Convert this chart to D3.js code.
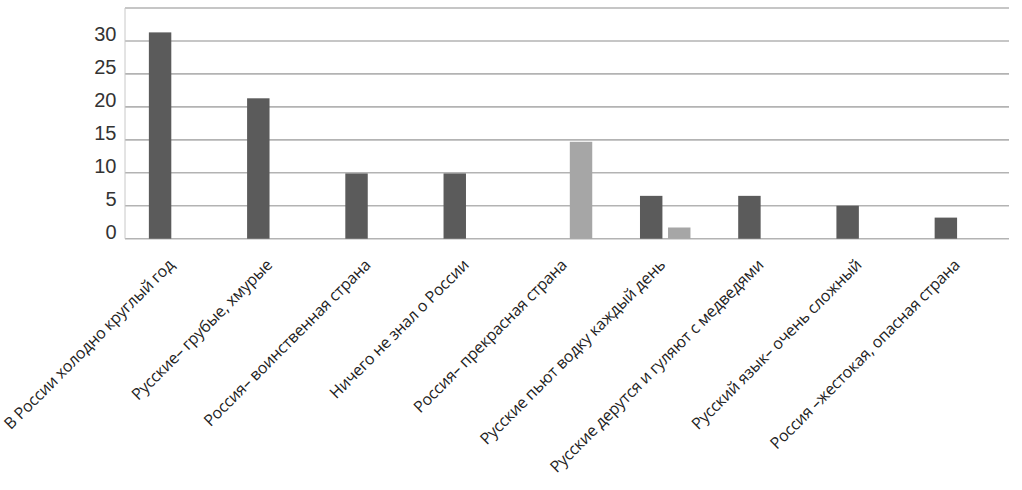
<!DOCTYPE html>
<html><head><meta charset="utf-8">
<script src="https://cdn.jsdelivr.net/npm/d3@7"></script>
<style>html,body{margin:0;padding:0;background:#fff;}</style>
</head><body>
<svg id="c" width="1022" height="490"></svg>
<script>
const categories = [
  "В России холодно круглый год",
  "Русские– грубые, хмурые",
  "Россия– воинственная страна",
  "Ничего не знал о России",
  "Россия– прекрасная страна",
  "Русские пьют водку каждый день",
  "Русские дерутся и гуляют с медведями",
  "Русский язык– очень сложный",
  "Россия –жестокая, опасная страна"
];
const seriesDark  = [31.3, 21.3, 9.9, 9.9, 0, 6.5, 6.5, 5.0, 3.2];
const seriesLight = [0, 0, 0, 0, 14.7, 1.7, 0, 0, 0];
const yTicks = [0, 5, 10, 15, 20, 25, 30];
const yGrid = [0, 5, 10, 15, 20, 25, 30, 35];
const seriesColors = ["#5b5b5b", "#a6a6a6"];

const svg = d3.select("#c");
const plotLeft = 125, plotRight = 1009, plotTop = 8, plotBottom = 238.7;

const y = d3.scaleLinear().domain([0, 35]).range([plotBottom, plotTop]);
const x0 = d3.scaleBand().domain(d3.range(categories.length)).range([plotLeft, plotRight])
  .paddingInner(0.486).paddingOuter(0.243);
const x1 = d3.scaleBand().domain([0, 1]).range([0, x0.bandwidth()]).paddingInner(0.2);

// gridlines
svg.append("g").selectAll("line").data(yGrid).join("line")
  .attr("x1", plotLeft).attr("x2", plotRight)
  .attr("y1", d => y(d)).attr("y2", d => y(d))
  .attr("stroke", "#b3b3b3").attr("stroke-width", 1.6);
// left border
svg.append("line").attr("x1", plotLeft).attr("x2", plotLeft).attr("y1", y(35)).attr("y2", y(0))
  .attr("stroke", "#c8c8c8").attr("stroke-width", 1);

// bars
const data = categories.map((c, i) => [seriesDark[i], seriesLight[i]]);
const g = svg.append("g").selectAll("g").data(data).join("g")
  .attr("transform", (d, i) => `translate(${x0(i)},0)`);
g.selectAll("rect").data(d => d.map((v, k) => ({v, k})).filter(e => e.v > 0)).join("rect")
  .attr("x", d => x1(d.k)).attr("width", x1.bandwidth())
  .attr("y", d => y(d.v)).attr("height", d => y(0) - y(d.v))
  .attr("fill", d => seriesColors[d.k]);

// y labels
svg.append("g").selectAll("text").data(yTicks).join("text")
  .attr("x", 116.5).attr("y", d => y(d) + 0.5)
  .attr("text-anchor", "end")
  .attr("font-family", "Liberation Sans, Arial, sans-serif")
  .attr("font-size", 20).attr("fill", "#333")
  .text(d => d);

// x labels
svg.append("g").selectAll("text").data(categories).join("text")
  .attr("transform", (d, i) => `translate(${x0(i) + x0.bandwidth() / 2 + 1},${266}) rotate(-45)`)
  .attr("text-anchor", "end")
  .attr("font-family", "Open Sans, sans-serif")
  .attr("font-size", 16).attr("letter-spacing", -0.2).attr("fill", "#222")
  .text(d => d);
</script>
</body></html>
